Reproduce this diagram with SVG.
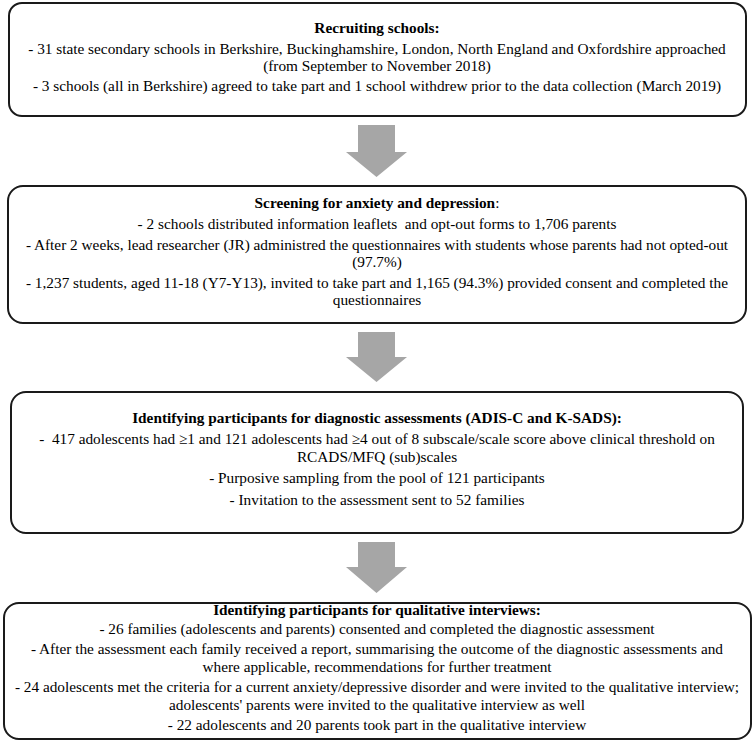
<svg xmlns="http://www.w3.org/2000/svg" width="755" height="744" viewBox="0 0 755 744">
<style>
.box{fill:#fff;stroke:#1a1a1a;stroke-width:2}
.arr{fill:#a6a6a6}
text{font-family:"Liberation Serif","Times New Roman",serif;font-size:15.3px;fill:#000;text-anchor:middle}
.b{font-weight:bold}
</style>
<rect width="755" height="744" fill="#fff"/>
<g id="connectors">
<polygon class="arr" points="358,125 395,125 395,152 407,152 376.5,177 346,152 358,152"/>
<polygon class="arr" points="358,332 395,332 395,357 407,357 376.5,382 346,357 358,357"/>
<polygon class="arr" points="358,542 395,542 395,567 407,567 376.5,593 346,567 358,567"/>
</g>
<g id="node1">
<rect class="box" x="9" y="3" width="737" height="113" rx="13"/>
<text x="377" y="33" class="b">Recruiting schools:</text>
<text x="377" y="54">- 31 state secondary schools in Berkshire, Buckinghamshire, London, North England and Oxfordshire approached</text>
<text x="377" y="71">(from September to November 2018)</text>
<text x="377" y="91">- 3 schools (all in Berkshire) agreed to take part and 1 school withdrew prior to the data collection (March 2019)</text>
</g>
<g id="node2">
<rect class="box" x="8" y="186" width="738" height="137" rx="15"/>
<text x="377" y="208"><tspan class="b">Screening for anxiety and depression</tspan>:</text>
<text x="377" y="229" xml:space="preserve">- 2 schools distributed information leaflets  and opt-out forms to 1,706 parents</text>
<text x="377" y="250">- After 2 weeks, lead researcher (JR) administred the questionnaires with students whose parents had not opted-out</text>
<text x="377" y="267">(97.7%)</text>
<text x="377" y="288">- 1,237 students, aged 11-18 (Y7-Y13), invited to take part and 1,165 (94.3%) provided consent and completed the</text>
<text x="377" y="305">questionnaires</text>
</g>
<g id="node3">
<rect class="box" x="11" y="392" width="732" height="141" rx="15"/>
<text x="377" y="423" class="b">Identifying participants for diagnostic assessments (ADIS-C and K-SADS):</text>
<text x="377" y="444" xml:space="preserve">-  417 adolescents had ≥1 and 121 adolescents had ≥4 out of 8 subscale/scale score above clinical threshold on</text>
<text x="377" y="462">RCADS/MFQ (sub)scales</text>
<text x="377" y="483">- Purposive sampling from the pool of 121 participants</text>
<text x="377" y="505">- Invitation to the assessment sent to 52 families</text>
</g>
<g id="node4">
<rect class="box" x="4" y="603" width="747" height="136" rx="15"/>
<text x="377" y="615" class="b">Identifying participants for qualitative interviews:</text>
<text x="377" y="634">- 26 families (adolescents and parents) consented and completed the diagnostic assessment</text>
<text x="377" y="654">- After the assessment each family received a report, summarising the outcome of the diagnostic assessments and</text>
<text x="377" y="672">where applicable, recommendations for further treatment</text>
<text x="377" y="692">- 24 adolescents met the criteria for a current anxiety/depressive disorder and were invited to the qualitative interview;</text>
<text x="377" y="710">adolescents' parents were invited to the qualitative interview as well</text>
<text x="377" y="730">- 22 adolescents and 20 parents took part in the qualitative interview</text>
</g>
</svg>
